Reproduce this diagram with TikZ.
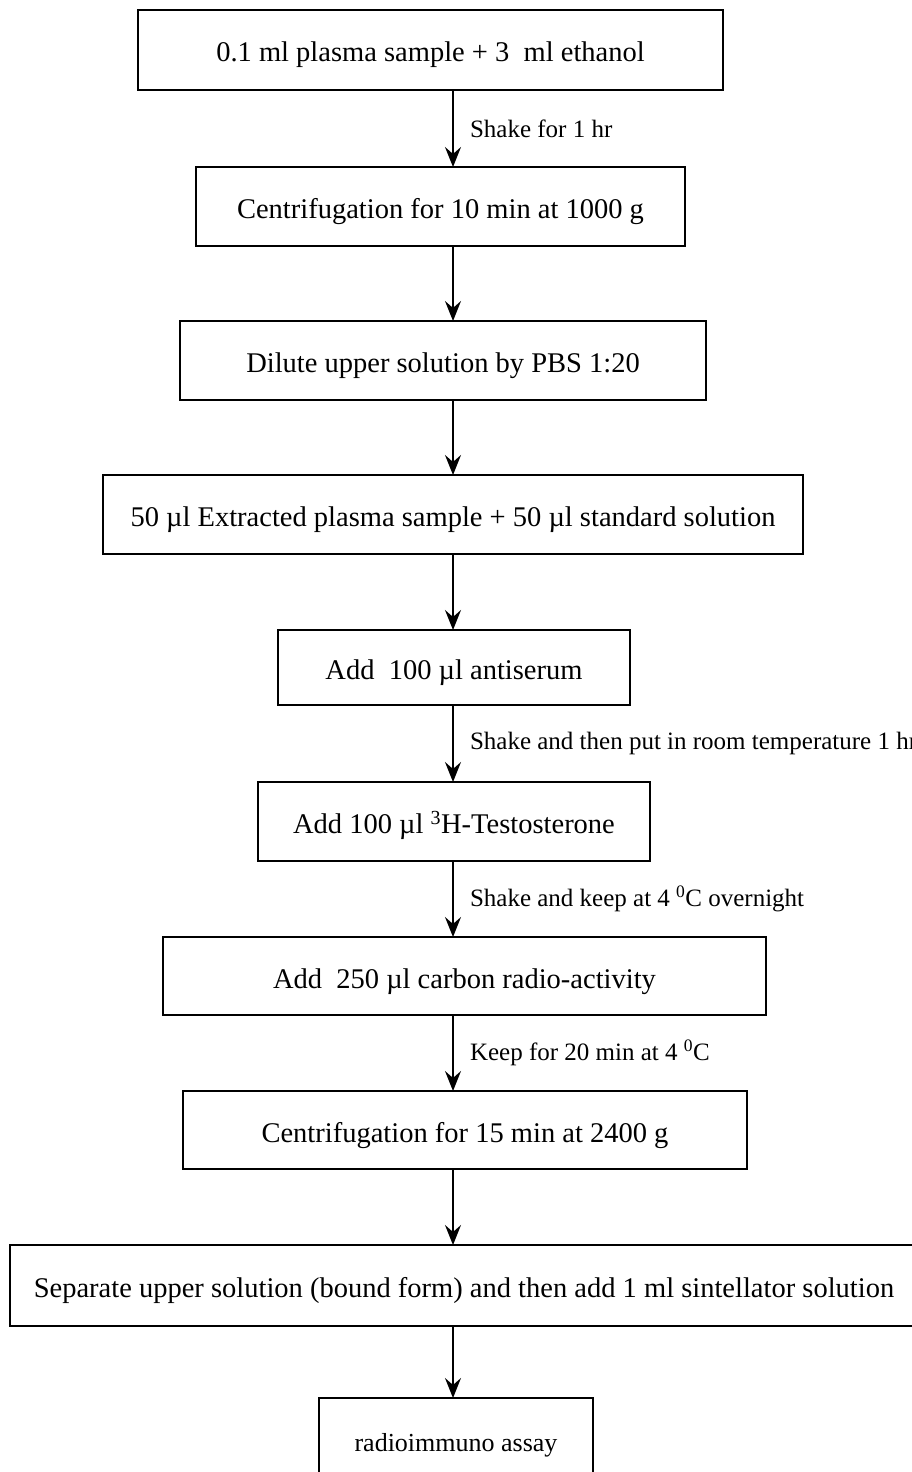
\documentclass[tikz,border=0pt]{standalone}
\usepackage{fontspec}
\setmainfont{Liberation Serif}
\usetikzlibrary{positioning,arrows.meta}

\begin{document}
\begin{tikzpicture}[x=1pt, y=-1pt, line width=2pt,
                    main node/.style={rectangle,draw,inner sep=0pt,outer sep=0pt,minimum height=79pt,
                                      text height=31pt,text depth=7pt,
                                      font=\fontsize{28.5}{34}\selectfont},
                    step note/.style={right,inner sep=0pt,xshift=16pt,
                                      font=\fontsize{25}{30}\selectfont},
                    flow/.style={-{Stealth[length=20pt,width=16pt,inset=7pt]}}]
  \useasboundingbox (0,0) rectangle (912,1472);
  \coordinate (spine) at (453,0);

  \node[main node, minimum width=585pt, minimum height=80pt] (1) at (430.5,50) {0.1 ml plasma sample + 3\ \ ml ethanol};
  \node[main node, minimum width=489pt] (2) [below=77pt of 1, xshift=10pt] {Centrifugation for 10 min at 1000 g};
  \node[main node, minimum width=526pt] (3) [below=75pt of 2, xshift=2.5pt] {Dilute upper solution by PBS 1:20};
  \node[main node, minimum width=700pt] (4) [below=75pt of 3, xshift=10pt] {50 µl Extracted plasma sample + 50 µl standard solution};
  \node[main node, minimum width=352pt, minimum height=75pt] (5) [below=76pt of 4, xshift=1pt] {Add\ \ 100 µl antiserum};
  \node[main node, minimum width=392pt] (6) [below=77pt of 5] {Add 100 µl \textsuperscript{3}H-Testosterone};
  \node[main node, minimum width=603pt, minimum height=78pt] (7) [below=76pt of 6, xshift=10.5pt] {Add\ \ 250 µl carbon radio-activity};
  \node[main node, minimum width=564pt, minimum height=78pt] (8) [below=76pt of 7, xshift=0.5pt] {Centrifugation for 15 min at 2400 g};
  \node[main node, minimum width=908pt, minimum height=81pt] (9) [below=76pt of 8, xshift=-1pt] {Separate upper solution (bound form) and then add 1 ml sintellator solution};
  \node[main node, minimum width=274pt, minimum height=82pt,
        font=\fontsize{26}{30}\selectfont] (10) [below=72pt of 9, xshift=-8pt] {radioimmuno assay};

  \path[flow]
    (1.south -| spine) edge node[step note] {Shake for 1 hr} (2.north -| spine)
    (2.south -| spine) edge (3.north -| spine)
    (3.south -| spine) edge (4.north -| spine)
    (4.south -| spine) edge (5.north -| spine)
    (5.south -| spine) edge node[step note] {Shake and then put in room temperature 1 hr} (6.north -| spine)
    (6.south -| spine) edge node[step note] {Shake and keep at 4 \textsuperscript{0}C overnight} (7.north -| spine)
    (7.south -| spine) edge node[step note] {Keep for 20 min at 4 \textsuperscript{0}C} (8.north -| spine)
    (8.south -| spine) edge (9.north -| spine)
    (9.south -| spine) edge (10.north -| spine);
\end{tikzpicture}
\end{document}
